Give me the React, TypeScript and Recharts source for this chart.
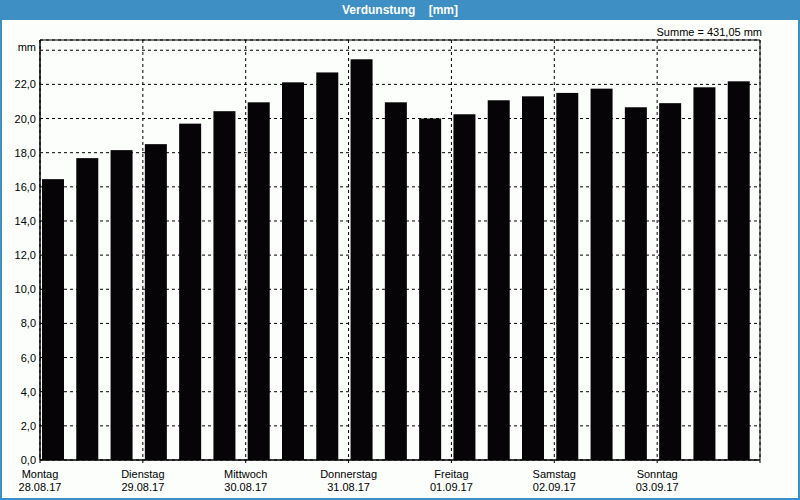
import { BarChart, Bar, XAxis, YAxis, CartesianGrid, ReferenceArea } from 'recharts';

const dayNames = ['Montag', 'Dienstag', 'Mittwoch', 'Donnerstag', 'Freitag', 'Samstag', 'Sonntag'];
const dayDates = ['28.08.17', '29.08.17', '30.08.17', '31.08.17', '01.09.17', '02.09.17', '03.09.17'];
// three values per day
const evaporation = [
  16.45, 17.68, 18.15,
  18.5, 19.7, 20.43,
  20.95, 22.12, 22.7,
  23.47, 20.95, 20.0,
  20.25, 21.07, 21.3,
  21.5, 21.75, 20.66,
  20.9, 21.83, 22.18,
];
const yTicks = [0, 2, 4, 6, 8, 10, 12, 14, 16, 18, 20, 22, 24];
const dayTicks = [0, 3, 6, 9, 12, 15, 18, 21];
const totalLabel = 'Summe = 431,05 mm';

const data = evaporation.map((v, i) => ({ slot: i + 0.5, value: v }));

const FONT = '"Liberation Sans", Arial, sans-serif';
const BLUE = '#3d8fc4';

const DayTick = (props: any) => {
  const { x, y, payload } = props;
  const idx = payload.value / 3;
  if (idx >= dayNames.length) return null;
  return (
    <text x={x} y={y} textAnchor="middle" fontSize={11} fontFamily={FONT} fill="#000">
      <tspan x={x} dy={13}>{dayNames[idx]}</tspan>
      <tspan x={x} dy={13}>{dayDates[idx]}</tspan>
    </text>
  );
};

const ValueTick = (props: any) => {
  const { x, y, payload } = props;
  const label = payload.value === 24 ? 'mm' : payload.value.toFixed(1).replace('.', ',');
  return (
    <text x={x} y={y} dy={payload.value === 24 ? 1 : 4} textAnchor="end" fontSize={11} fontFamily={FONT} fill="#000">
      {label}
    </text>
  );
};

const OffsetBar = (props: any) => {
  const { x, y, width, height } = props;
  return <rect x={x - 4} y={y} width={width} height={height} fill="#060406" />;
};

export default function App() {
  return (
    <div style={{ position: 'absolute', left: 0, top: 0, width: 800, height: 500, background: '#fbfefb', fontFamily: FONT }}>
      <BarChart width={800} height={500} data={data} margin={{ top: 40, right: 40, bottom: 0, left: 0 }}>
        <CartesianGrid stroke="#000" strokeDasharray="3 3" />
        <XAxis
          dataKey="slot"
          type="number"
          domain={[0, 21]}
          ticks={dayTicks}
          height={40}
          stroke="#000"
          tickSize={3}
          tick={<DayTick />}
          interval={0}
        />
        <YAxis
          type="number"
          domain={[0, 24.6]}
          ticks={yTicks}
          width={40}
          stroke="#000"
          tickLine={false}
          tickSize={2}
          tickMargin={2}
          tick={<ValueTick />}
          interval={0}
          allowDataOverflow
        />
        <ReferenceArea x1={0} x2={21} y1={0} y2={24.6} fill="none" stroke="#000" strokeWidth={1} ifOverflow="visible" />
        <Bar dataKey="value" barSize={22} shape={<OffsetBar />} isAnimationActive={false} />
      </BarChart>
      <div
        style={{
          position: 'absolute', left: 0, top: 0, width: 800, height: 20, background: BLUE,
          color: '#fff', fontWeight: 'bold', fontSize: 12, lineHeight: '20px', textAlign: 'center', whiteSpace: 'pre',
        }}
      >
        {'Verdunstung    [mm]'}
      </div>
      <div
        style={{
          position: 'absolute', right: 38, top: 25, fontSize: 11, lineHeight: '14px', color: '#000', whiteSpace: 'pre',
        }}
      >
        {totalLabel}
      </div>
      <div
        style={{
          position: 'absolute', left: 0, top: 0, width: 800, height: 500, boxSizing: 'border-box',
          borderLeft: `2px solid ${BLUE}`, borderRight: `2px solid ${BLUE}`, borderBottom: `2px solid ${BLUE}`,
          pointerEvents: 'none',
        }}
      />
    </div>
  );
}
